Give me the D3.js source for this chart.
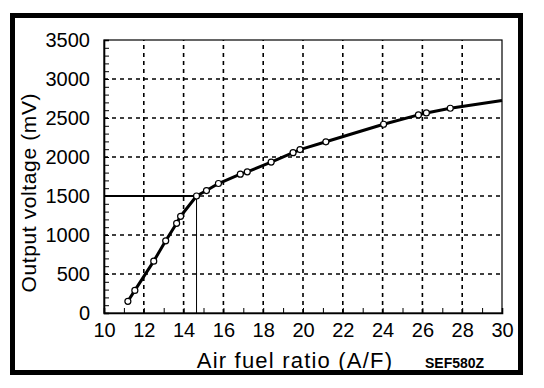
<!DOCTYPE html>
<html>
<head>
<meta charset="utf-8">
<script src="https://cdn.jsdelivr.net/npm/d3@7"></script>
<style>
	body { margin: 0; background: #fff; }
	svg { display: block; font-family: "Liberation Sans", Arial, sans-serif; }
</style>
</head>
<body>
<div id="chart"></div>
<script>
// measured points (air fuel ratio vs output voltage in mV)
const afr = [11.2, 11.55, 12.5, 13.1, 13.65, 13.85, 14.65, 15.15, 15.75, 16.85, 17.2, 18.4, 19.5, 19.85, 21.15, 24.05, 25.8, 26.2, 27.4];
const mv = [150, 290, 665, 925, 1150, 1240, 1500, 1570, 1660, 1780, 1810, 1935, 2055, 2095, 2195, 2420, 2540, 2565, 2625];

// the curve keeps going to the right edge without a marker
const curveEndAfr = 30;
const curveEndMv = 2725;

// stoichiometric reference
const refAfr = 14.65;
const refMv = 1500;

const xTicks = [10, 12, 14, 16, 18, 20, 22, 24, 26, 28, 30];
const yTicks = [0, 500, 1000, 1500, 2000, 2500, 3000, 3500];

const width = 544;
const height = 388;

const margin = {
	top: 40,
	bottom: 75,
	left: 104,
	right: 42,
};

const svg = d3
	.select("#chart")
	.append("svg")
	.attr("width", width)
	.attr("height", height);

// outer frame
svg
	.append("rect")
	.attr("x", 12.5)
	.attr("y", 15.5)
	.attr("width", 508)
	.attr("height", 357)
	.attr("fill", "none")
	.attr("stroke", "#000")
	.attr("stroke-width", 5);

const xScale = d3
	.scaleLinear()
	.domain([10, 30])
	.range([margin.left, width - margin.right]);

const yScale = d3
	.scaleLinear()
	.domain([0, 3500])
	.range([height - margin.bottom, margin.top]);

// dashed grid
svg
	.append("g")
	.selectAll("line")
	.data(xTicks.slice(1, -1))
	.enter()
	.append("line")
	.attr("x1", (d) => xScale(d))
	.attr("x2", (d) => xScale(d))
	.attr("y1", yScale(0))
	.attr("y2", yScale(3500))
	.attr("stroke", "#000")
	.attr("stroke-width", 1.6)
	.attr("stroke-dasharray", "4,4");

svg
	.append("g")
	.selectAll("line")
	.data(yTicks.slice(1, -1))
	.enter()
	.append("line")
	.attr("x1", xScale(10))
	.attr("x2", xScale(30))
	.attr("y1", (d) => yScale(d))
	.attr("y2", (d) => yScale(d))
	.attr("stroke", "#000")
	.attr("stroke-width", 1.6)
	.attr("stroke-dasharray", "4,4");

// plot box
svg
	.append("rect")
	.attr("x", xScale(10))
	.attr("y", yScale(3500))
	.attr("width", xScale(30) - xScale(10))
	.attr("height", yScale(0) - yScale(3500))
	.attr("fill", "none")
	.attr("stroke", "#000")
	.attr("stroke-width", 1.2);

// minor ticks pointing inwards
svg
	.append("g")
	.attr("transform", `translate(${xScale(10)}, 0)`)
	.call(d3.axisLeft(yScale).tickValues(d3.range(0, 3501, 100)).tickSize(-5).tickFormat(""))
	.call((g) => g.select(".domain").attr("stroke-width", 1.6));

svg
	.append("g")
	.attr("transform", `translate(0, ${yScale(0)})`)
	.call(d3.axisBottom(xScale).tickValues(d3.range(10, 31, 1)).tickSize(-5).tickFormat(""))
	.call((g) => g.select(".domain").attr("stroke-width", 1.6));

// tick labels
const yAxis = svg
	.append("g")
	.attr("transform", `translate(${xScale(10)}, 0)`)
	.call(d3.axisLeft(yScale).tickValues(yTicks).tickFormat(d3.format("d")).tickSize(0).tickPadding(14));

const xAxis = svg
	.append("g")
	.attr("transform", `translate(0, ${yScale(0)})`)
	.call(d3.axisBottom(xScale).tickValues(xTicks).tickFormat(d3.format("d")).tickSize(0).tickPadding(10));

[yAxis, xAxis].forEach((g) => {
	g.select(".domain").remove();
	g.selectAll("text")
		.attr("fill", "#000")
		.style("font-family", '"Liberation Sans", Arial, sans-serif')
		.style("font-size", "20px");
});

// reference lines at 1500 mV
svg
	.append("line")
	.attr("x1", xScale(10))
	.attr("x2", xScale(refAfr))
	.attr("y1", yScale(refMv))
	.attr("y2", yScale(refMv))
	.attr("stroke", "#000")
	.attr("stroke-width", 2);

svg
	.append("line")
	.attr("x1", xScale(refAfr))
	.attr("x2", xScale(refAfr))
	.attr("y1", yScale(0))
	.attr("y2", yScale(refMv))
	.attr("stroke", "#000")
	.attr("stroke-width", 1);

// curve
const points = afr.map((a, i) => [a, mv[i]]);
const curve = points.concat([[curveEndAfr, curveEndMv]]);

const line = d3
	.line()
	.x((d) => xScale(d[0]))
	.y((d) => yScale(d[1]));

svg
	.append("path")
	.datum(curve)
	.attr("d", line)
	.attr("fill", "none")
	.attr("stroke", "#000")
	.attr("stroke-width", 3)
	.attr("stroke-linejoin", "round");

svg
	.append("g")
	.selectAll("circle")
	.data(points)
	.enter()
	.append("circle")
	.attr("cx", (d) => xScale(d[0]))
	.attr("cy", (d) => yScale(d[1]))
	.attr("r", 3)
	.attr("fill", "#fff")
	.attr("stroke", "#000")
	.attr("stroke-width", 1.2);

// axis titles
const xLabel = svg
	.append("text")
	.attr("x", 295)
	.attr("y", 368)
	.style("text-anchor", "middle")
	.style("font-size", "22px")
	.style("letter-spacing", "1.2px")
	.text("Air fuel ratio (A/F)");

const yLabel = svg
	.append("text")
	.attr("transform", "rotate(-90)")
	.attr("x", -193)
	.attr("y", 36)
	.style("text-anchor", "middle")
	.style("font-size", "21px")
	.attr("textLength", 199)
	.text("Output voltage (mV)");

svg
	.append("text")
	.attr("x", 425)
	.attr("y", 368)
	.style("font-size", "14px")
	.style("font-weight", "bold")
	.text("SEF580Z");
</script>
</body>
</html>
